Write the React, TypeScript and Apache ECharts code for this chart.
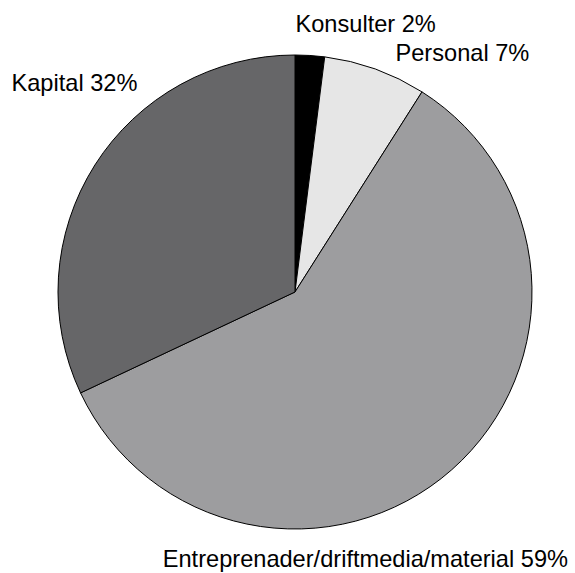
import React, { useEffect, useRef } from "react";
import * as echarts from "echarts";

const categories = ["Konsulter", "Personal", "Entreprenader/driftmedia/material", "Kapital"];
const values = [2, 7, 59, 32];
const colors = ["#000000", "#e6e6e6", "#9d9d9f", "#666668"];
const labelSpots: [number, number, string][] = [
  [295.5, 24, "left"],
  [395.5, 52.5, "left"],
  [568, 559, "right"],
  [11.5, 83, "left"],
];

export default function App() {
  const ref = useRef<HTMLDivElement>(null);
  useEffect(() => {
    document.body.style.margin = "0";
    const chart = echarts.init(ref.current!, undefined, { renderer: "svg" });
    chart.setOption({
      animation: false,
      backgroundColor: "#ffffff",
      series: [
        {
          type: "pie",
          center: [295, 292],
          radius: 237,
          startAngle: 90,
          clockwise: true,
          data: categories.map((c, i) => ({
            name: c,
            value: values[i],
            itemStyle: { color: colors[i] },
          })),
          itemStyle: { borderColor: "#000000", borderWidth: 1 },
          label: {
            show: true,
            formatter: (p: any) => `${p.name} ${values[p.dataIndex]}%`,
            fontFamily: "Liberation Sans, Arial, sans-serif",
            fontSize: 23.6,
            color: "#000000",
            overflow: "none",
            width: 600,
          },
          labelLine: { show: false },
          labelLayout: (p: any) => {
            const s = labelSpots[p.dataIndex];
            return { x: s[0], y: s[1], align: s[2], verticalAlign: "middle" };
          },
          emphasis: { disabled: true },
        },
      ],
    });
    return () => chart.dispose();
  }, []);
  return <div ref={ref} style={{ width: 575, height: 573 }} />;
}
